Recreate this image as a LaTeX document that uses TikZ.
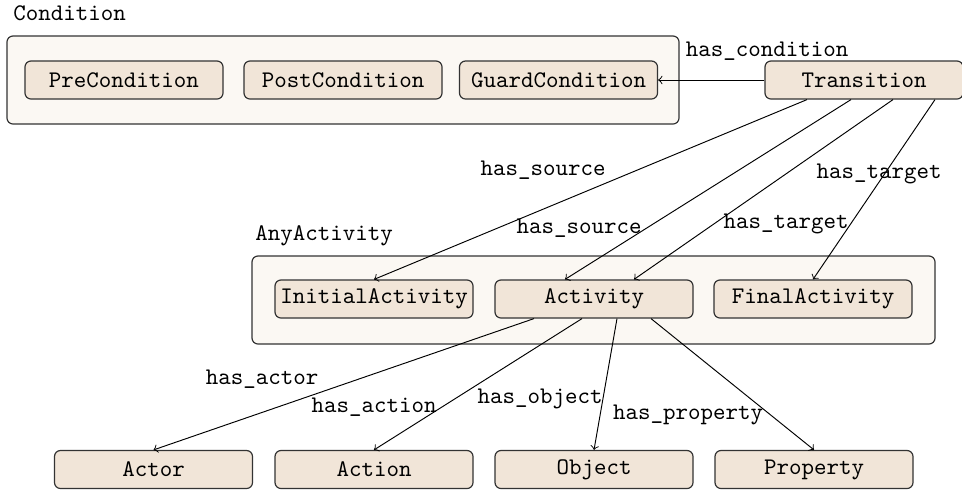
\documentclass[tikz,border=0pt]{standalone}
\usetikzlibrary{calc}
\definecolor{groupfill}{HTML}{FBF8F3}
\definecolor{boxfill}{HTML}{F1E5D8}
\definecolor{edgegray}{HTML}{333333}
\begin{document}
\begin{tikzpicture}[x=0.42pt,y=-0.42pt,
  font=\ttfamily,
  group/.style={draw=edgegray,fill=groupfill,rounded corners=2.5pt,line width=0.5pt,inner sep=0pt},
  entity/.style={draw=edgegray,fill=boxfill,rounded corners=2.5pt,line width=0.5pt,
    minimum width=198*0.42pt,minimum height=38*0.42pt,inner sep=0pt},
  rel/.style={->,line width=0.4pt,black},
  lbl/.style={anchor=base,inner sep=0pt},
  title/.style={anchor=base west,inner sep=0pt}]
\useasboundingbox (0,0) rectangle (962,491);

% containers
\node[group,minimum width=672*0.42pt,minimum height=88*0.42pt] (cond) at (343,80) {};
\node[title] (condT) at (13,20) {Condition};
\node[group,minimum width=683*0.42pt,minimum height=88*0.42pt] (anyact) at (593.5,300) {};
\node[title] (anyT) at (255,240) {AnyActivity};

% condition kinds
\node[entity] (pre) at (124,80) {PreCondition};
\node[entity] (post) at (343,80) {PostCondition};
\node[entity] (guard) at (558.5,80) {GuardCondition};
\node[entity] (tr) at (864,80) {Transition};

% activities
\node[entity] (init) at (374,299) {InitialActivity};
\node[entity] (act) at (594,299) {Activity};
\node[entity] (fin) at (813,299) {FinalActivity};

% activity parts
\node[entity] (actor) at (153.5,469.5) {Actor};
\node[entity] (action) at (374,469.5) {Action};
\node[entity] (object) at (594,469.5) {Object};
\node[entity] (prop) at (814,469.5) {Property};

% relations
\draw[rel] (tr.west) -- (guard.east);
\node[lbl] (lcond) at (767,56) {has\_condition};

\draw[rel] ($(tr.south)+(-57,0)$) -- (init.north);
\draw[rel] ($(tr.south)+(-13,0)$) -- ($(act.north)+(-29,0)$);
\draw[rel] ($(tr.south)+(29,0)$) -- ($(act.north)+(40,0)$);
\draw[rel] ($(tr.south)+(71,0)$) -- (fin.north);
\node[lbl] (lsrc1) at (543,175) {has\_source};
\node[lbl] (lsrc2) at (579,233) {has\_source};
\node[lbl] (ltgt1) at (786,228) {has\_target};
\node[lbl] (ltgt2) at (879,178) {has\_target};

\draw[rel] ($(act.south)+(-60,0)$) -- (actor.north);
\draw[rel] ($(act.south)+(-12,0)$) -- (action.north);
\draw[rel] ($(act.south)+(23,0)$) -- (object.north);
\draw[rel] ($(act.south)+(57,0)$) -- (prop.north);
\node[lbl] (lactor) at (262,384) {has\_actor};
\node[lbl] (laction) at (374,412) {has\_action};
\node[lbl] (lobject) at (540,403) {has\_object};
\node[lbl] (lprop) at (688,419) {has\_property};
\end{tikzpicture}
\end{document}
